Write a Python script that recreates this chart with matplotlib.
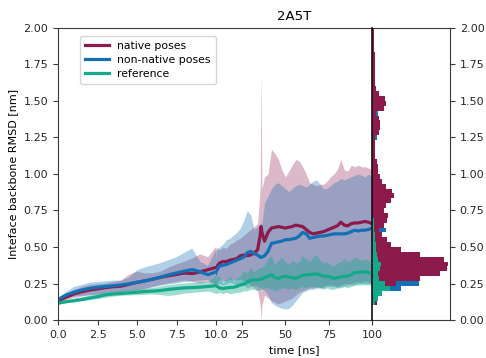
import numpy as np
import matplotlib
matplotlib.use("Agg")
import matplotlib.pyplot as plt

# ---- time axis [ns]: fine sampling for the first 10 ns, coarser afterwards
time_early = [0.0, 0.5, 1.0, 1.5, 2.0, 2.5, 3.0, 3.5, 4.0, 4.5, 5.0,
              5.5, 6.0, 6.5, 7.0, 7.5, 8.0, 8.5, 9.0, 9.5, 10.0]
time_late = [12, 14, 16, 18, 20, 22, 24, 26, 28, 30, 32, 34, 35.5, 36, 36.5,
             38, 40, 42, 44, 46, 48, 50, 52, 54, 56, 58, 60, 62, 64, 66, 68,
             70, 72, 74, 76, 78, 80, 82, 84, 86, 88, 90, 92, 94, 96, 98, 100]

# ---- mean interface backbone RMSD [nm]
native_mean = [0.13, 0.155, 0.178, 0.193, 0.205, 0.213, 0.222, 0.228, 0.232, 0.245, 0.258,
               0.268, 0.28, 0.293, 0.303, 0.312, 0.322, 0.318, 0.33, 0.345, 0.36,
               0.39, 0.40, 0.40, 0.41, 0.415, 0.42, 0.44, 0.445, 0.44, 0.445, 0.46, 0.48,
               0.58, 0.64, 0.60,
               0.54, 0.60, 0.63, 0.635, 0.64, 0.635, 0.63, 0.635, 0.64, 0.65, 0.645, 0.64,
               0.62, 0.60, 0.59, 0.595, 0.60, 0.605, 0.615, 0.625, 0.635, 0.645, 0.67,
               0.65, 0.645, 0.66, 0.665, 0.665, 0.67, 0.675, 0.67, 0.66]
nonnative_mean = [0.14, 0.17, 0.19, 0.205, 0.217, 0.224, 0.23, 0.234, 0.24, 0.248, 0.258,
                  0.268, 0.28, 0.293, 0.31, 0.322, 0.335, 0.345, 0.33, 0.31, 0.33,
                  0.37, 0.375, 0.38, 0.39, 0.40, 0.41, 0.42, 0.43, 0.46, 0.47, 0.455, 0.445,
                  0.43, 0.43, 0.43,
                  0.44, 0.47, 0.525, 0.53, 0.535, 0.54, 0.55, 0.55, 0.555, 0.56, 0.575, 0.60,
                  0.59, 0.56, 0.565, 0.57, 0.575, 0.575, 0.58, 0.585, 0.59, 0.59, 0.59,
                  0.59, 0.595, 0.605, 0.615, 0.61, 0.615, 0.615, 0.62, 0.63]
reference_mean = [0.115, 0.125, 0.132, 0.14, 0.15, 0.16, 0.172, 0.178, 0.182, 0.186, 0.19,
                  0.195, 0.198, 0.202, 0.21, 0.215, 0.22, 0.222, 0.225, 0.23, 0.235,
                  0.22, 0.215, 0.22, 0.222, 0.224, 0.23, 0.24, 0.245, 0.26, 0.27, 0.275, 0.275,
                  0.28, 0.28, 0.28,
                  0.29, 0.30, 0.31, 0.29, 0.285, 0.295, 0.30, 0.295, 0.29, 0.285, 0.295, 0.305,
                  0.31, 0.31, 0.315, 0.315, 0.31, 0.30, 0.30, 0.295, 0.285, 0.29, 0.295,
                  0.30, 0.30, 0.31, 0.325, 0.325, 0.33, 0.33, 0.325, 0.32]

# ---- spread (upper / lower envelopes)
native_hi = [0.14, 0.18, 0.205, 0.225, 0.24, 0.245, 0.25, 0.26, 0.27, 0.31, 0.33,
             0.32, 0.32, 0.33, 0.36, 0.38, 0.40, 0.42, 0.45, 0.43, 0.50,
             0.48, 0.50, 0.49, 0.52, 0.53, 0.55, 0.56, 0.58, 0.60, 0.62, 0.64, 0.66,
             0.90, 1.70, 0.90,
             0.98, 1.00, 1.17, 1.14, 1.10, 1.03, 0.98, 1.02, 1.06, 1.10, 1.09, 1.05,
             1.00, 0.94, 0.93, 0.92, 0.93, 0.93, 0.95, 0.98, 1.00, 1.03, 1.10,
             1.03, 1.02, 1.06, 1.05, 1.06, 1.05, 1.05, 1.04, 1.03]
native_lo = [0.12, 0.135, 0.15, 0.16, 0.17, 0.175, 0.18, 0.185, 0.19, 0.195, 0.20,
             0.21, 0.225, 0.24, 0.25, 0.26, 0.27, 0.26, 0.25, 0.26, 0.24,
             0.28, 0.27, 0.27, 0.28, 0.27, 0.28, 0.28, 0.27, 0.26, 0.24, 0.22, 0.20,
             0.10, 0.0, 0.10,
             0.17, 0.15, 0.13, 0.12, 0.11, 0.12, 0.13, 0.14, 0.15, 0.17, 0.19, 0.20,
             0.21, 0.22, 0.22, 0.23, 0.22, 0.23, 0.24, 0.24, 0.24, 0.23, 0.24,
             0.25, 0.25, 0.25, 0.26, 0.26, 0.26, 0.27, 0.26, 0.26]
nonnative_hi = [0.15, 0.19, 0.225, 0.24, 0.255, 0.26, 0.265, 0.27, 0.27, 0.29, 0.34,
                0.36, 0.375, 0.39, 0.41, 0.43, 0.46, 0.49, 0.40, 0.37, 0.48,
                0.50, 0.52, 0.55, 0.56, 0.58, 0.60, 0.63, 0.68, 0.75, 0.72, 0.62, 0.64,
                0.66, 0.66, 0.66,
                0.80, 0.85, 0.90, 0.93, 0.94, 0.92, 0.90, 0.88, 0.90, 0.92, 0.93, 0.92,
                0.91, 0.93, 0.95, 0.96, 0.93, 0.90, 0.90, 0.92, 0.94, 0.95, 0.97,
                0.96, 0.97, 0.98, 0.99, 1.00, 0.99, 0.98, 1.00, 0.98]
nonnative_lo = [0.13, 0.15, 0.16, 0.165, 0.17, 0.175, 0.185, 0.19, 0.195, 0.20, 0.205,
                0.215, 0.225, 0.235, 0.245, 0.25, 0.26, 0.265, 0.27, 0.275, 0.24,
                0.25, 0.24, 0.25, 0.26, 0.25, 0.24, 0.25, 0.24, 0.22, 0.23, 0.24, 0.23,
                0.22, 0.22, 0.22,
                0.20, 0.17, 0.12, 0.10, 0.09, 0.08, 0.075, 0.08, 0.10, 0.13, 0.16, 0.19,
                0.20, 0.21, 0.21, 0.22, 0.22, 0.22, 0.23, 0.23, 0.23, 0.22, 0.23,
                0.23, 0.24, 0.24, 0.24, 0.25, 0.25, 0.25, 0.25, 0.25]
reference_hi = [0.125, 0.135, 0.145, 0.155, 0.168, 0.18, 0.19, 0.195, 0.20, 0.205, 0.21,
                0.215, 0.22, 0.23, 0.24, 0.245, 0.25, 0.255, 0.26, 0.26, 0.30,
                0.30, 0.25, 0.28, 0.30, 0.26, 0.29, 0.30, 0.34, 0.32, 0.36, 0.33, 0.35,
                0.36, 0.36, 0.36,
                0.38, 0.42, 0.44, 0.38, 0.41, 0.43, 0.40, 0.38, 0.41, 0.39, 0.40, 0.44,
                0.42, 0.40, 0.43, 0.45, 0.41, 0.39, 0.40, 0.38, 0.37, 0.39, 0.40,
                0.42, 0.40, 0.41, 0.43, 0.42, 0.41, 0.42, 0.41, 0.40]
reference_lo = [0.105, 0.115, 0.12, 0.128, 0.135, 0.142, 0.152, 0.16, 0.165, 0.168, 0.17,
                0.172, 0.175, 0.17, 0.165, 0.17, 0.18, 0.185, 0.19, 0.195, 0.18,
                0.19, 0.18, 0.19, 0.18, 0.185, 0.19, 0.19, 0.20, 0.20, 0.21, 0.21, 0.20,
                0.21, 0.21, 0.21,
                0.22, 0.22, 0.21, 0.20, 0.21, 0.22, 0.22, 0.21, 0.22, 0.21, 0.22, 0.23,
                0.22, 0.23, 0.23, 0.22, 0.22, 0.21, 0.22, 0.21, 0.21, 0.22, 0.22,
                0.23, 0.22, 0.23, 0.24, 0.24, 0.24, 0.24, 0.24, 0.24]

# ---- RMSD distribution (60 bins over 0-2 nm, arbitrary units)
native_hist = [0, 0, 0, 5, 6, 9, 17, 24, 48, 68, 75, 76, 72, 48, 29, 19, 15, 10, 7, 12,
               15, 16, 12, 14, 19, 22, 20, 14, 10, 8, 6, 6, 5, 3, 3, 3, 3, 3, 7, 8,
               8, 7, 4, 12, 14, 13, 7, 4, 3, 3, 3, 3, 2.5, 2.5, 2.5, 2, 2, 2, 2, 2]
nonnative_hist = [0, 0, 0, 3, 5, 10, 29, 47, 46, 40, 35, 30, 25, 18, 14, 10, 9, 9, 14, 9,
                  8, 7, 6, 5, 5, 4, 4, 3, 3, 3, 3, 3, 2, 2, 2, 2, 2, 5, 3, 3,
                  3, 6, 6, 3, 3, 2, 2, 2, 2, 2, 2, 2, 2, 1, 1, 1, 1, 1, 1, 1]
reference_hist = [0, 0, 0, 3, 6, 10, 18, 13, 7, 6, 8, 9, 6, 5, 4, 4, 3, 3, 2, 2,
                  1.5, 0, 0, 0, 0, 0, 0, 0, 0, 0, 0, 0, 0, 0, 0, 0, 0, 0, 0, 0,
                  0, 0, 0, 0, 0, 0, 0, 0, 0, 0, 0, 0, 0, 0, 0, 0, 0, 0, 0, 0]
hist_edges = np.linspace(0.0, 2.0, 61)

C_NATIVE = "#8c1a4b"
C_NONNATIVE = "#1470b4"
C_REFERENCE = "#14a98b"

plt.rcParams["font.size"] = 8.0
plt.rcParams["axes.edgecolor"] = "#3a3a3a"
plt.rcParams["xtick.color"] = "#3a3a3a"
plt.rcParams["ytick.color"] = "#3a3a3a"
plt.rcParams["xtick.labelcolor"] = "#262626"
plt.rcParams["ytick.labelcolor"] = "#262626"

t = np.array(time_early + time_late, dtype=float)

fig = plt.figure(figsize=(4.86, 3.58), dpi=100)
bottom, height = 1 - 320 / 358, 292 / 358
ax1 = fig.add_axes([58 / 486, bottom, 158 / 486, height])
ax2 = fig.add_axes([216 / 486, bottom, 156 / 486, height])
ax3 = fig.add_axes([372 / 486, bottom, 78 / 486, height])
ax1.set_zorder(3)  # keep the legend above the neighbouring panel

series = [
    ("native poses", native_mean, native_lo, native_hi, C_NATIVE, 0.30),
    ("non-native poses", nonnative_mean, nonnative_lo, nonnative_hi, C_NONNATIVE, 0.33),
    ("reference", reference_mean, reference_lo, reference_hi, C_REFERENCE, 0.40),
]

for ax in (ax1, ax2):
    for _, _, lo, hi, col, a in series:
        ax.fill_between(t, lo, hi, color=col, alpha=a, linewidth=0)
    for name, mean, _, _, col, _ in series:
        ax.plot(t, mean, color=col, lw=2.3, label=name)
    ax.set_ylim(0, 2.0)

ax1.set_xlim(0, 10)
ax1.set_xticks([0, 2.5, 5.0, 7.5, 10.0])
ax1.set_xticklabels(["0.0", "2.5", "5.0", "7.5", "10.0"])
ax1.set_yticks(np.arange(0, 2.01, 0.25))
ax1.set_yticklabels([f"{v:.2f}" for v in np.arange(0, 2.01, 0.25)])
ax1.spines["right"].set_visible(False)
ax1.set_ylabel("Inteface backbone RMSD [nm]")

ax2.set_xlim(10, 100)
ax2.set_xticks([25, 50, 75, 100])
ax2.set_yticks([])
ax2.spines["left"].set_visible(False)
ax2.spines["right"].set_visible(False)
ax2.set_xlabel("time [ns]")
ax2.set_title("2A5T", fontsize=9.5)

leg = ax1.legend(loc="upper left", bbox_to_anchor=(0.105, 0.99), frameon=True,
                 fontsize=7.8, handlelength=2.2, borderpad=0.45, labelspacing=0.35)
leg.get_frame().set_edgecolor("#cccccc")

# distribution panel
ax3.stairs(nonnative_hist, hist_edges, orientation="horizontal", fill=True,
           color=C_NONNATIVE, linewidth=0)
ax3.stairs(native_hist, hist_edges, orientation="horizontal", fill=True,
           color=C_NATIVE, linewidth=0)
ax3.stairs(reference_hist, hist_edges, orientation="horizontal", fill=True,
           color=C_REFERENCE, linewidth=0)
ax3.set_ylim(0, 2.0)
ax3.set_xlim(0, 78)
ax3.set_xticks([])
ax3.yaxis.tick_right()
ax3.set_yticks(np.arange(0, 2.01, 0.25))
ax3.set_yticklabels([f"{v:.2f}" for v in np.arange(0, 2.01, 0.25)])
ax3.spines["left"].set_color("#111111")
ax3.spines["left"].set_linewidth(1.2)
ax3.spines["left"].set_zorder(5)

fig.savefig("out.png", dpi=100)
